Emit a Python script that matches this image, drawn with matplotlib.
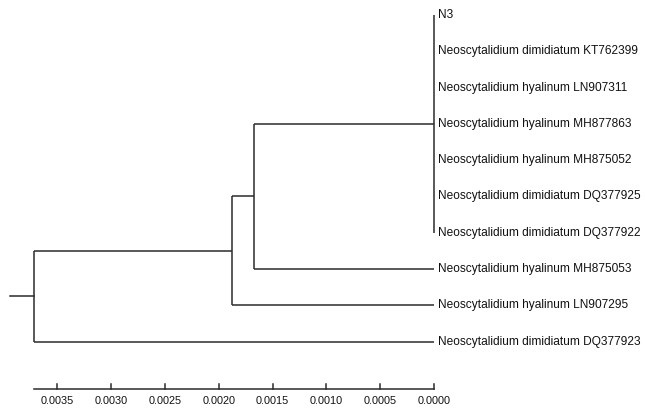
import matplotlib
matplotlib.use("Agg")
import matplotlib.pyplot as plt
from matplotlib import font_manager

# leaf names, top to bottom
leaves = [
    "N3",
    "Neoscytalidium dimidiatum KT762399",
    "Neoscytalidium hyalinum LN907311",
    "Neoscytalidium hyalinum MH877863",
    "Neoscytalidium hyalinum MH875052",
    "Neoscytalidium dimidiatum DQ377925",
    "Neoscytalidium dimidiatum DQ377922",
    "Neoscytalidium hyalinum MH875053",
    "Neoscytalidium hyalinum LN907295",
    "Neoscytalidium dimidiatum DQ377923",
]

# internal nodes: name -> children, and node height (distance to tips)
node_children = {
    "C": leaves[0:7],
    "B": ["C", leaves[7]],
    "A": ["B", leaves[8]],
    "root": ["A", leaves[9]],
}
node_height = {"C": 0.0, "B": 0.001673, "A": 0.001877, "root": 0.003717}

scale_ticks = [0.0035, 0.0030, 0.0025, 0.0020, 0.0015, 0.0010, 0.0005, 0.0000]

# look for a narrow font file, the reference text is condensed
narrow = None
for f in font_manager.fontManager.ttflist:
    fn = f.fname.replace("-", "").replace("_", "").lower()
    if "liberationsansnarrow" in fn and "regular" in fn:
        narrow = f.fname
        break
if narrow is not None:
    lab_font = font_manager.FontProperties(fname=narrow, size=10.4)
    tick_font = font_manager.FontProperties(fname=narrow, size=9.3)
else:
    lab_font = font_manager.FontProperties(family="Liberation Sans", size=8.6)
    tick_font = font_manager.FontProperties(family="Liberation Sans", size=7.8)

fig = plt.figure(figsize=(6.45, 4.09), dpi=100)
ax = fig.add_axes([0, 0, 1, 1])
ax.set_xlim(0.004033, -0.001961)
ax.set_ylim(10.854, -0.413)
ax.axis("off")

col = "#2b2b2b"
lw = 1.1

pos = {}
for i, name in enumerate(leaves):
    pos[name] = (0.0, i)


def place(node):
    if node in pos:
        return pos[node]
    ys = [place(c)[1] for c in node_children[node]]
    pos[node] = (node_height[node], (min(ys) + max(ys)) / 2)
    return pos[node]


place("root")

for node, kids in node_children.items():
    x, y = pos[node]
    ys = [pos[k][1] for k in kids]
    ax.plot([x, x], [min(ys), max(ys)], color=col, lw=lw, solid_capstyle="butt")
    for k in kids:
        kx, ky = pos[k]
        if kx != x:
            ax.plot([x, kx], [ky, ky], color=col, lw=lw, solid_capstyle="butt")

# root stub
rx, ry = pos["root"]
ax.plot([rx + 0.00022, rx], [ry, ry], color=col, lw=lw)

for i, name in enumerate(leaves):
    ax.text(-0.00004, i, name, ha="left", va="center",
            fontproperties=lab_font, color="#111111")

# scale axis
axis_y = 10.303
ax.plot([rx, 0.0], [axis_y, axis_y], color=col, lw=lw)
for t in scale_ticks:
    ax.plot([t, t], [axis_y, axis_y - 0.14], color=col, lw=lw)
    ax.text(t, axis_y + 0.33, f"{t:.4f}", ha="center", va="center",
            fontproperties=tick_font, color="#111111")

fig.savefig("out.png", dpi=100)
